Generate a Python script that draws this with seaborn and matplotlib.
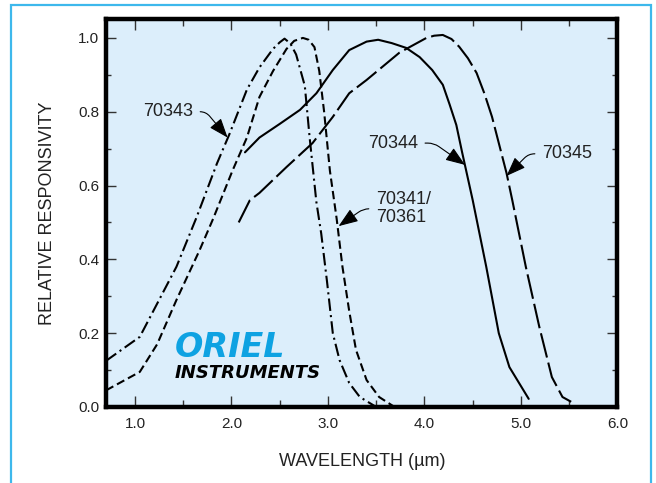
import matplotlib
matplotlib.use("Agg")
import matplotlib.pyplot as plt
import matplotlib.patches as mpatches
from matplotlib.ticker import MultipleLocator
import seaborn as sns

# ---- data ----
wl_70343 = [0.70, 1.05, 1.19, 1.43, 1.64, 1.85, 1.98, 2.16, 2.29, 2.43, 2.50, 2.55,
            2.61, 2.67, 2.76, 2.81, 2.88, 2.93, 2.99, 3.05, 3.12, 3.22, 3.33, 3.50]
rr_70343 = [0.125, 0.19, 0.26, 0.38, 0.515, 0.66, 0.74, 0.86, 0.92, 0.97, 0.988, 0.998,
            0.985, 0.955, 0.87, 0.73, 0.555, 0.47, 0.34, 0.20, 0.127, 0.065, 0.027, 0.0]

wl_70341 = [0.70, 1.05, 1.23, 1.43, 1.67, 1.81, 2.01, 2.16, 2.29, 2.43, 2.57, 2.65, 2.74,
            2.80, 2.86, 2.91, 2.96, 3.02, 3.09, 3.15, 3.22, 3.29, 3.40, 3.53, 3.69]
rr_70341 = [0.045, 0.095, 0.17, 0.29, 0.425, 0.51, 0.64, 0.73, 0.84, 0.91, 0.97, 0.992, 1.0,
            0.995, 0.975, 0.91, 0.80, 0.64, 0.51, 0.38, 0.26, 0.155, 0.073, 0.027, 0.0]

wl_70344 = [2.14, 2.29, 2.50, 2.71, 2.88, 3.05, 3.22, 3.40, 3.52, 3.66, 3.81, 3.95, 4.08,
            4.19, 4.26, 4.33, 4.39, 4.50, 4.64, 4.77, 4.88, 4.98, 5.08]
rr_70344 = [0.69, 0.73, 0.767, 0.805, 0.85, 0.913, 0.967, 0.99, 0.995, 0.986, 0.973, 0.948,
            0.913, 0.873, 0.82, 0.764, 0.69, 0.56, 0.38, 0.20, 0.108, 0.065, 0.022]

wl_70345 = [2.075, 2.19, 2.29, 2.57, 2.84, 3.05, 3.22, 3.40, 3.74, 4.02, 4.10, 4.19,
            4.28, 4.36, 4.45, 4.54, 4.62, 4.70, 4.85, 4.91, 5.05, 5.19, 5.32, 5.43, 5.52]
rr_70345 = [0.50, 0.56, 0.58, 0.65, 0.715, 0.786, 0.85, 0.886, 0.96, 1.0, 1.006, 1.008,
            0.997, 0.976, 0.945, 0.905, 0.85, 0.786, 0.634, 0.56, 0.38, 0.217, 0.081, 0.027, 0.014]

x_ticks = [1.0, 2.0, 3.0, 4.0, 5.0, 6.0]
y_ticks = [0.0, 0.2, 0.4, 0.6, 0.8, 1.0]
x_label = "WAVELENGTH (µm)"
y_label = "RELATIVE RESPONSIVITY"

# ---- style ----
sns.set_style("ticks")
plt.rcParams["font.family"] = ["Liberation Sans", "DejaVu Sans"]

fig = plt.figure(figsize=(6.56, 4.83), dpi=100)
fig.patch.set_facecolor("white")
ax = fig.add_axes([0.1616, 0.1574, 0.7797, 0.8023])
ax.set_facecolor("#DCEEFB")

# outer cyan border
fig.patches.append(mpatches.Rectangle((11 / 656, -0.1), 640 / 656, 0.1 + 478 / 483,
                                      transform=fig.transFigure, fill=False,
                                      edgecolor="#3DB8EC", lw=1.6, zorder=0))

lw = 1.5
sns.lineplot(x=wl_70343, y=rr_70343, ax=ax, color="black", lw=lw,
             linestyle=(0, (6, 2, 1, 2)), sort=False, estimator=None)
sns.lineplot(x=wl_70341, y=rr_70341, ax=ax, color="black", lw=lw,
             linestyle=(0, (4, 2)), sort=False, estimator=None)
sns.lineplot(x=wl_70344, y=rr_70344, ax=ax, color="black", lw=lw,
             linestyle="-", sort=False, estimator=None)
sns.lineplot(x=wl_70345, y=rr_70345, ax=ax, color="black", lw=lw,
             linestyle=(0, (12, 2.5)), sort=False, estimator=None)

ax.set_xlim(0.70, 6.0)
ax.set_ylim(0.0, 1.05)
ax.set_xticks(x_ticks)
ax.set_xticklabels([f"{v:.1f}" for v in x_ticks])
ax.set_yticks(y_ticks)
ax.set_yticklabels([f"{v:.1f}" for v in y_ticks])
ax.xaxis.set_minor_locator(MultipleLocator(0.5))
ax.yaxis.set_minor_locator(MultipleLocator(0.1))
ax.tick_params(which="both", direction="in", top=True, right=True,
               color="#333333", width=1.0, labelsize=11, labelcolor="#222222")
ax.tick_params(axis="x", which="major", length=8, pad=7)
ax.tick_params(axis="x", which="minor", length=5)
ax.tick_params(axis="y", which="major", length=7, pad=5)
ax.tick_params(axis="y", which="minor", length=3.5)
for s in ax.spines.values():
    s.set_linewidth(3.2)
    s.set_color("black")

ax.set_xlabel(x_label, fontsize=13, color="#222222")
ax.set_ylabel(y_label, fontsize=13, color="#222222")
ax.xaxis.set_label_coords(0.5, -0.118)
ax.yaxis.set_label_coords(-0.098, 0.5)

# annotations
akw = dict(arrowstyle="-|>,head_length=0.8,head_width=0.3", color="black",
           lw=0.8, shrinkA=3, shrinkB=0, mutation_scale=15)
ax.annotate("70343", xy=(1.96, 0.73), xytext=(1.34, 0.80), fontsize=13,
            ha="center", va="center", color="#222222",
            arrowprops=dict(akw, connectionstyle="angle,angleA=0,angleB=130,rad=6"))
ax.annotate("70344", xy=(4.42, 0.656), xytext=(3.67, 0.715), fontsize=13,
            ha="center", va="center", color="#222222",
            arrowprops=dict(akw, connectionstyle="angle,angleA=0,angleB=145,rad=6"))
ax.annotate("70345", xy=(4.85, 0.626), xytext=(5.48, 0.686), fontsize=13,
            ha="center", va="center", color="#222222",
            arrowprops=dict(akw, connectionstyle="angle,angleA=0,angleB=45,rad=6"))
ax.annotate("70341/\n70361", xy=(3.11, 0.49), xytext=(3.50, 0.537), fontsize=13,
            ha="left", va="center", color="#222222", linespacing=1.05,
            arrowprops=dict(akw, connectionstyle="angle,angleA=0,angleB=35,rad=6"))

# logo
ax.text(1.41, 0.135, "ORIEL", fontsize=24, fontweight="heavy", style="italic",
        family="DejaVu Sans", color="#0EA2E2", ha="left", va="baseline")
ax.text(1.41, 0.079, "INSTRUMENTS", fontsize=13, fontweight="bold", style="italic",
        family="DejaVu Sans", color="black", ha="left", va="baseline")

fig.savefig("out.png", dpi=100)
